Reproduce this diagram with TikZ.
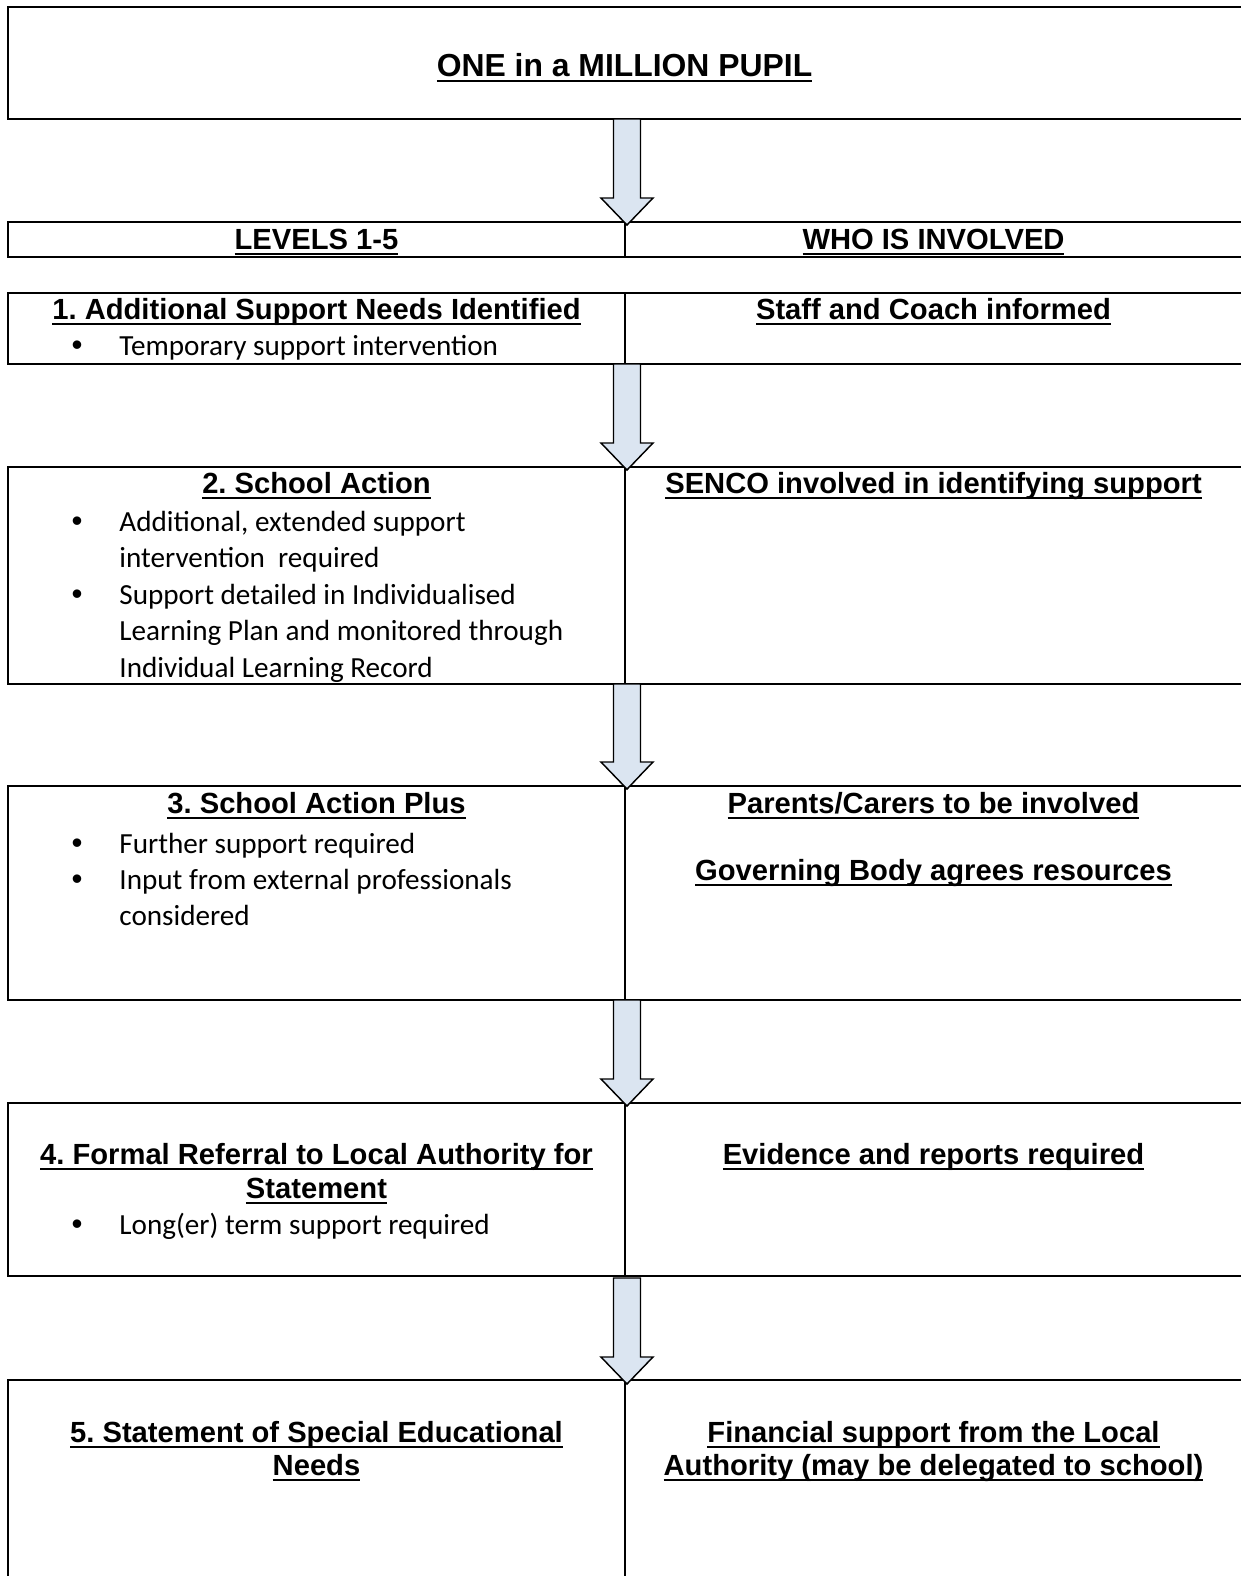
\documentclass[tikz,border=0pt]{standalone}
\usepackage{fontspec}
\setmainfont{Liberation Sans}
\newfontfamily\calfont{Carlito}
\usetikzlibrary{calc}
\frenchspacing
\definecolor{arrowfill}{RGB}{219,229,241}
\newcommand{\ulx}[1]{\setbox0=\hbox{#1}\rlap{\rule[-3.1pt]{\wd0}{1.3pt}}\box0}
\newcommand{\blockarrow}[2]{\draw[barrow] let \p1=(#1),\p2=(#2) in
  (\x1-6.48pt,\y1) -- (\x1+6.48pt,\y1) -- (\x1+6.48pt,\y2+12.96pt) -- (\x1+12.48pt,\y2+12.96pt)
  -- (\x2,\y2) -- (\x1-12.48pt,\y2+12.96pt) -- (\x1-6.48pt,\y2+12.96pt) -- cycle;}
\tikzset{
 boxline/.style={draw=black, line width=0.9pt},
 divline/.style={draw=black, line width=0.65pt},
 hdr/.style={font=\bfseries\fontsize{14pt}{16.1pt}\selectfont, anchor=base, inner sep=0pt},
 ttl/.style={font=\bfseries\fontsize{15.3pt}{17.6pt}\selectfont, anchor=base, inner sep=0pt},
 btxt/.style={font=\calfont\fontsize{14pt}{17.4pt}\selectfont, anchor=base west, inner sep=0pt},
 bdot/.style={font=\fontsize{15pt}{16pt}\selectfont, anchor=base, inner sep=0pt},
 barrow/.style={draw=black, line width=0.7pt, fill=arrowfill, line join=miter},
}
\begin{document}
\begin{tikzpicture}[x=0.48pt,y=-0.48pt]
\useasboundingbox (0,0) rectangle (1241,1576);
% boxes
\coordinate (topNW) at (8,7); \coordinate (topSE) at (1244,119);
\draw[boxline] (topNW) rectangle (topSE);
\foreach \n/\t/\b in {hd/222/257, r1/293/364, r2/467/684, r3/786/1000, r4/1103/1276, r5/1380/1600}{
  \coordinate (\n NW) at (8,\t); \coordinate (\n SE) at (1244,\b);
  \coordinate (\n DT) at (625,\t); \coordinate (\n DB) at (625,\b);
  \draw[boxline] (\n NW) rectangle (\n SE);
  \draw[divline] (\n DT) -- (\n DB);
}
% arrows
\coordinate (a0s) at (627,119);  \coordinate (a0t) at (627,225);
\coordinate (a1s) at (627,364);  \coordinate (a1t) at (627,470);
\coordinate (a2s) at (627,684);  \coordinate (a2t) at (627,789);
\coordinate (a3s) at (627,1000); \coordinate (a3t) at (627,1106);
\coordinate (a4s) at (627,1278); \coordinate (a4t) at (627,1384);
\blockarrow{a0s}{a0t}
\blockarrow{a1s}{a1t}
\blockarrow{a2s}{a2t}
\blockarrow{a3s}{a3t}
\blockarrow{a4s}{a4t}
% title
\node[ttl] (title) at (624.5,76) {\ulx{ONE in a MILLION PUPIL}};
% header row
\node[hdr] (hdL) at (316.5,249) {\ulx{LEVELS 1-5}};
\node[hdr] (hdR) at (933.5,249) {\ulx{WHO IS INVOLVED}};
% row 1
\node[hdr] (r1L) at (316.5,319) {\ulx{1. Additional Support Needs Identified}};
\node[hdr] (r1R) at (933.5,319) {\ulx{Staff and Coach informed}};
\node[bdot] (r1d1) at (77,355) {•};
\node[btxt] (r1b1) at (119,355) {Temporary support intervention};
% row 2
\node[hdr] (r2L) at (316.5,493) {\ulx{2. School Action}};
\node[hdr] (r2R) at (933.5,493) {\ulx{SENCO involved in identifying support}};
\node[bdot] (r2d1) at (77,531) {•};
\node[btxt] (r2b1a) at (119,531) {Additional, extended support};
\node[btxt] (r2b1b) at (119,567.5) {intervention\ \ required};
\node[bdot] (r2d2) at (77,604) {•};
\node[btxt] (r2b2a) at (119,604) {Support detailed in Individualised};
\node[btxt] (r2b2b) at (119,640.5) {Learning Plan and monitored through};
\node[btxt] (r2b2c) at (119,677) {Individual Learning Record};
% row 3
\node[hdr] (r3L) at (316.5,813) {\ulx{3. School Action Plus}};
\node[hdr] (r3R1) at (933.5,813) {\ulx{Parents/Carers to be involved}};
\node[hdr] (r3R2) at (933.5,880) {\ulx{Governing Body agrees resources}};
\node[bdot] (r3d1) at (77,853) {•};
\node[btxt] (r3b1) at (119,853) {Further support required};
\node[bdot] (r3d2) at (77,889) {•};
\node[btxt] (r3b2a) at (119,889) {Input from external professionals};
\node[btxt] (r3b2b) at (119,925) {considered};
% row 4
\node[hdr] (r4La) at (316.5,1164) {\ulx{4. Formal Referral to Local Authority for}};
\node[hdr] (r4Lb) at (316.5,1198) {\ulx{Statement}};
\node[hdr] (r4R) at (933.5,1164) {\ulx{Evidence and reports required}};
\node[bdot] (r4d1) at (77,1234) {•};
\node[btxt] (r4b1) at (119,1234) {Long(er) term support required};
% row 5
\node[hdr] (r5La) at (316.5,1442) {\ulx{5. Statement of Special Educational}};
\node[hdr] (r5Lb) at (316.5,1475) {\ulx{Needs}};
\node[hdr] (r5Ra) at (933.5,1442) {\ulx{Financial support from the Local}};
\node[hdr] (r5Rb) at (933.5,1475) {\ulx{Authority (may be delegated to school)}};
\end{tikzpicture}
\end{document}
